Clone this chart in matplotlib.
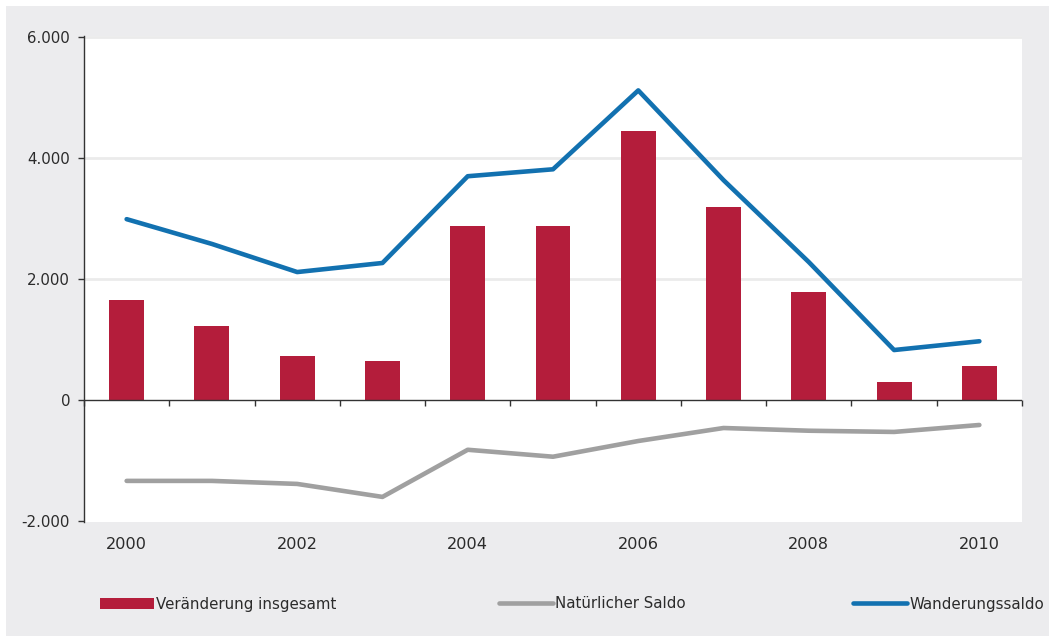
import numpy as np
import matplotlib
matplotlib.use("Agg")
import matplotlib.pyplot as plt
from matplotlib.patches import Rectangle, Patch
from matplotlib.lines import Line2D
from matplotlib.ticker import FuncFormatter

plt.rcParams['font.family'] = ['DejaVu Sans']

years = [2000, 2001, 2002, 2003, 2004, 2005, 2006, 2007, 2008, 2009, 2010]
veraenderung = [1650, 1220, 730, 645, 2875, 2875, 4445, 3190, 1785, 300, 560]
natuerlich = [-1340, -1340, -1390, -1605, -825, -940, -680, -465, -510, -530, -415]
wanderung = [2990, 2580, 2115, 2265, 3700, 3815, 5120, 3635, 2280, 825, 970]
label_years = [2000, 2002, 2004, 2006, 2008, 2010]
grid_levels = [2000, 4000, 6000]

red = '#b41d3b'
blue = '#1271b0'
grey = '#a0a0a0'
bg = '#ececee'
txt = '#2b2b2b'
dark = '#333333'
fs = 10.8

W, H = 1049, 636
fig = plt.figure(figsize=(W / 100, H / 100), dpi=100)
fig.patch.set_facecolor('white')
fig.patches.append(Rectangle((6 / W, 0), 1 - 6 / W, 1 - 6 / H, transform=fig.transFigure,
                             facecolor=bg, edgecolor='none', zorder=-5))

ax = fig.add_axes([84 / W, (H - 522) / H, 938 / W, (522 - 36) / H])
ax.set_facecolor('white')
x = np.arange(len(years))

for g in grid_levels:
    ax.axhline(g, color='#ebebeb', lw=2, zorder=1)
ax.bar(x, veraenderung, width=0.41, color=red, zorder=2)
ax.axhline(0, color=dark, lw=1, zorder=2.5)
ax.plot(x, natuerlich, color=grey, lw=3.3, solid_capstyle='round', zorder=3)
ax.plot(x, wanderung, color=blue, lw=3.3, solid_capstyle='round', zorder=3)

ax.set_xlim(-0.5, len(years) - 0.5)
ax.set_ylim(-2020, 6020)
ax.set_yticks([-2000, 0, 2000, 4000, 6000])
ax.yaxis.set_major_formatter(FuncFormatter(lambda v, p: f'{int(v):,}'.replace(',', '.')))

for s in ['top', 'right', 'bottom']:
    ax.spines[s].set_visible(False)
ax.spines['left'].set_color(dark)
ax.spines['left'].set_linewidth(1)
ax.tick_params(axis='y', length=4.5, width=1, color=dark, pad=5.5,
               labelsize=fs, labelcolor=txt)

# year labels under the plot
ax.set_xticks([years.index(y) for y in label_years])
ax.set_xticklabels([str(y) for y in label_years])
ax.tick_params(axis='x', length=0, pad=11, labelsize=11.6, labelcolor=txt)

# ticks on the zero line between categories
sec = ax.secondary_xaxis(0, transform=ax.transData)
sec.spines['bottom'].set_visible(False)
sec.set_xticks(np.arange(len(years) + 1) - 0.5)
sec.tick_params(axis='x', length=4, width=1, color=dark, labelbottom=False)

# legend
handles = [
    Patch(facecolor=red, edgecolor='none', label='Veränderung insgesamt'),
    Line2D([], [], color=grey, lw=3.3, solid_capstyle='round', label='Natürlicher Saldo'),
    Line2D([], [], color=blue, lw=3.3, solid_capstyle='round', label='Wanderungssaldo'),
]
legend_x = [100, 499, 853]
for h, lx in zip(handles, legend_x):
    leg = fig.legend(handles=[h], loc='center left', bbox_to_anchor=(lx / W, 1 - 604 / H),
                     frameon=False, fontsize=fs, handlelength=3.6, handleheight=0.75,
                     handletextpad=0.15, borderpad=0, borderaxespad=0)
    for t in leg.get_texts():
        t.set_color(txt)

fig.savefig('out.png', dpi=100, facecolor=fig.get_facecolor())
